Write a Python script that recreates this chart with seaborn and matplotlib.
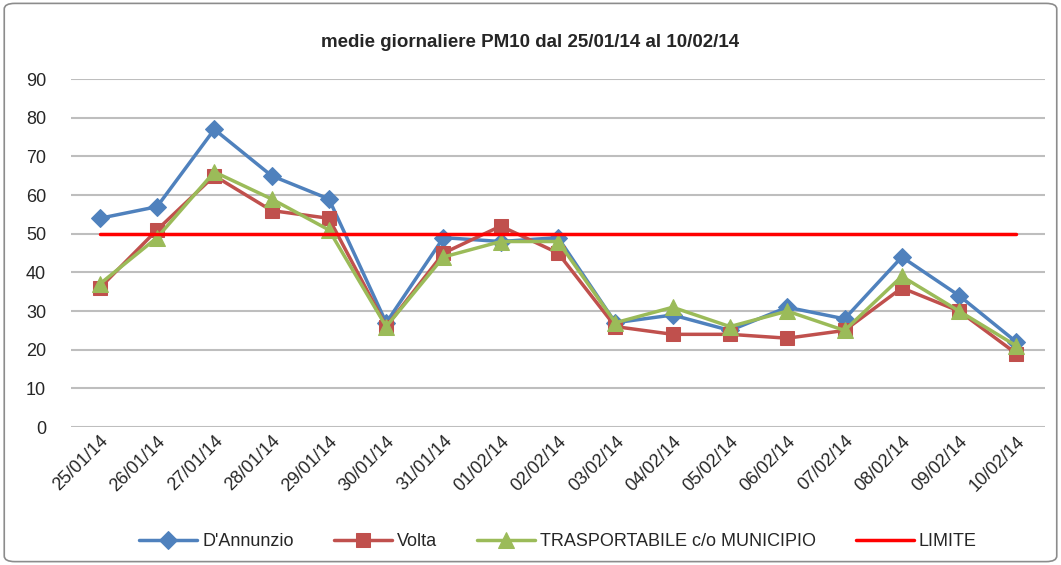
import numpy as np
import pandas as pd
import matplotlib
matplotlib.use("Agg")
import matplotlib.pyplot as plt
import seaborn as sns
from matplotlib.patches import FancyBboxPatch

dates = ["25/01/14", "26/01/14", "27/01/14", "28/01/14", "29/01/14", "30/01/14",
         "31/01/14", "01/02/14", "02/02/14", "03/02/14", "04/02/14", "05/02/14",
         "06/02/14", "07/02/14", "08/02/14", "09/02/14", "10/02/14"]
dannunzio = [54, 57, 77, 65, 59, 27, 49, 48, 49, 27, 29, 25, 31, 28, 44, 34, 22]
volta = [36, 51, 65, 56, 54, 26, 45, 52, 45, 26, 24, 24, 23, 25, 36, 30, 19]
trasportabile = [37, 49, 66, 59, 51, 26, 44, 48, 48, 27, 31, 26, 30, 25, 39, 30, 21]
limite = [50] * len(dates)

df = pd.DataFrame({"x": np.arange(len(dates)), "date": dates,
                   "D'Annunzio": dannunzio, "Volta": volta,
                   "TRASPORTABILE c/o MUNICIPIO": trasportabile, "LIMITE": limite})

sns.set_style("white")
plt.rcParams['font.family'] = ['Liberation Sans', 'DejaVu Sans']

fig = plt.figure(figsize=(10.61, 5.65), dpi=100)
ax = fig.add_axes([0.067, 0.244, 0.918, 0.616])

# outer frame like the excel chart border
fig.patches.append(FancyBboxPatch((0.004, 0.006), 0.992, 0.988, boxstyle="round,pad=0,rounding_size=0.01",
                                  transform=fig.transFigure, fill=False, edgecolor="#8c8c8c", linewidth=1.2))

series = [("D'Annunzio", "#4F81BD", "D", 9),
          ("Volta", "#C0504D", "s", 10),
          ("TRASPORTABILE c/o MUNICIPIO", "#9BBB59", "^", 11)]
for name, col, mk, ms in series:
    sns.lineplot(data=df, x="x", y=name, ax=ax, color=col, marker=mk, markersize=ms,
                 markeredgecolor=col, linewidth=2.5, label=name, zorder=3)
sns.lineplot(data=df, x="x", y="LIMITE", ax=ax, color="#FF0000", linewidth=2.5, label="LIMITE", zorder=4)

ax.set_xlim(-0.5, len(dates) - 0.5)
ax.set_ylim(0, 90)
ax.set_yticks(range(0, 91, 10))
ax.set_xticks(df["x"])
ax.set_xticklabels(dates, rotation=45, ha="right", rotation_mode="anchor", fontsize=13)
ax.tick_params(axis="y", labelsize=13, length=0, pad=18)
ax.tick_params(axis="x", length=0, pad=4)
ax.yaxis.grid(True, color="#BEBEBE", linewidth=1.5)
ax.set_axisbelow(True)
for s in ax.spines.values():
    s.set_visible(False)
ax.set_xlabel("")
ax.set_ylabel("")

fig.text(0.5, 0.925, "medie giornaliere PM10 dal 25/01/14 al 10/02/14", ha="center", va="center",
         fontsize=13.5, fontweight="bold")

ax.legend(loc="center", bbox_to_anchor=(0.5, -0.33), ncol=4, frameon=False, fontsize=13,
          handlelength=3.2, columnspacing=2.2, handletextpad=0.3)

fig.savefig("out.png", dpi=100)
